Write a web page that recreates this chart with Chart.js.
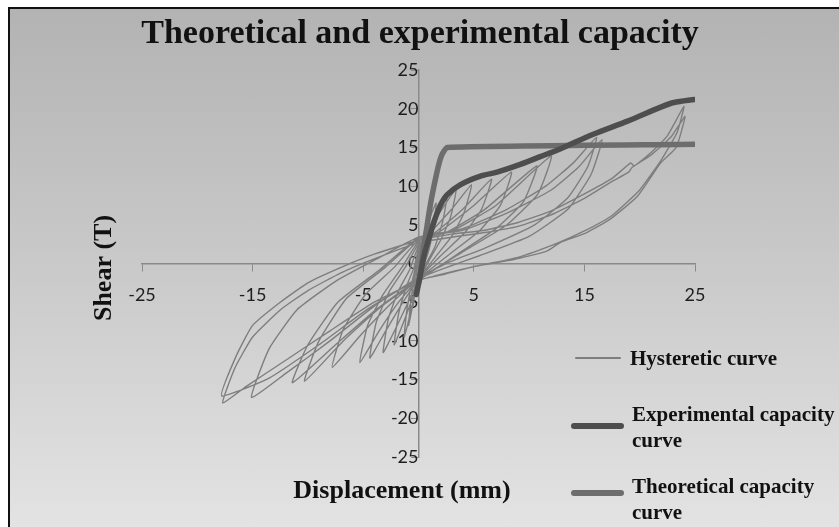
<!DOCTYPE html>
<html>
<head>
<meta charset="utf-8">
<script src="https://cdn.jsdelivr.net/npm/chart.js@4.4.1/dist/chart.umd.min.js"></script>
<style>
  html, body { margin: 0; padding: 0; background: #fff; overflow: hidden; }
  #frame {
    position: absolute; left: 8px; top: 7px; width: 839px; height: 527px;
    border-left: 2px solid #111; border-top: 2px solid #111;
    background: linear-gradient(to bottom, #b3b3b3 0%, #cacaca 50%, #e4e4e4 100%);
  }
  #chart { position: absolute; left: 0; top: 0; }
</style>
</head>
<body>
<div id="frame"></div>
<canvas id="chart" width="839" height="527"></canvas>
<script>
// Chart texts
const chartTitle = 'Theoretical and experimental capacity';
const xTitle = 'Displacement (mm)';
const yTitle = 'Shear (T)';

// Tick labels
const xTicks = [-25, -15, -5, 5, 15, 25];
const yTicks = [-25, -20, -15, -10, -5, 0, 5, 10, 15, 20, 25];

// Experimental capacity curve (envelope)
const expDisp  = [-0.2, 0.1, 0.5, 1.0, 1.5, 2.0, 2.6, 3.8, 5.6, 7.1, 9.2, 11.0, 12.8, 15.8, 18.9, 21.9, 23.1, 25.0];
const expShear = [-4.0, -2.0, 1.0, 3.5, 5.8, 7.6, 8.9, 10.2, 11.3, 11.8, 12.8, 13.8, 14.8, 16.7, 18.4, 20.2, 20.8, 21.2];

// Theoretical capacity curve (bilinear)
const theoDisp  = [0.0, 1.0, 1.7, 2.1, 2.6, 25.0];
const theoShear = [-2.5, 7.0, 12.0, 14.0, 15.0, 15.4];

// Hysteretic curve, [displacement, shear], one line per cycle
const hysteretic = [
  [0, 0],
  [0.3, 2.5], [0.6, 4.5], [0.45, 2], [0.2, 0], [0, -1.5], [-0.3, -3.5], [-0.5, -5.5], [-0.35, -3], [-0.15, -1], [0, 0.5],
  [0.4, 3], [0.8, 5.5], [1.0, 6.5], [0.8, 3.5], [0.5, 1], [0.2, -1], [0, -2], [-0.4, -4.5], [-0.9, -8], [-0.7, -5], [-0.4, -2], [0, 1],
  [0.5, 3.5], [1.1, 6.2], [1.6, 7.8], [1.35, 4.5], [0.9, 1.5], [0.4, -0.5], [0, -2.2], [-0.5, -5], [-1.0, -8], [-1.3, -9.5], [-1.05, -6], [-0.6, -2.5], [-0.2, 0], [0, 1.5],
  [0.7, 3.8], [1.6, 6.5], [2.6, 9.0], [2.2, 5.5], [1.5, 2.2], [0.7, 0], [0, -2.3], [-0.8, -5.5], [-1.6, -8.5], [-2.2, -10.5], [-1.8, -6.5], [-1.1, -3], [-0.4, -0.5], [0, 1.8],
  [1.0, 4.5], [2.2, 7.2], [3.4, 9.6], [2.9, 6], [2.0, 3], [1.0, 0.5], [0, -2.2], [-1.1, -5.5], [-2.2, -8.8], [-3.2, -11.5], [-2.7, -7], [-1.8, -3.5], [-0.8, -0.8], [0, 2.2],
  [1.2, 4.2], [3.0, 7.0], [4.8, 10.2], [4.1, 6.5], [3.0, 3.5], [1.5, 0.8], [0, -2], [-1.4, -5], [-3.0, -8.8], [-4.4, -12.2], [-3.8, -7.5], [-2.6, -3.5], [-1.2, -0.5], [0, 2.5],
  [1.5, 4], [4.0, 7], [6.6, 10.9], [5.7, 7], [4.2, 4], [2, 1], [0, -2], [-1.8, -5], [-3.6, -8.8], [-5.3, -12.8], [-4.6, -8], [-3.2, -4], [-1.5, -0.5], [0, 2.8],
  [2, 4.2], [5, 7.5], [8.4, 11.8], [7.4, 7.5], [5.5, 4.2], [2.8, 1.2], [0, -2], [-2.5, -5.2], [-5.2, -9.2], [-7.8, -13.4], [-6.8, -8.5], [-4.8, -4], [-2.2, -0.5], [0, 3],
  [2.5, 4], [6, 7], [10.7, 12.6], [9.5, 8], [7, 4.5], [3.5, 1.2], [0, -2.2], [-3.3, -5.5], [-6.8, -10], [-10.3, -15.2], [-9, -10], [-6.5, -4.5], [-3, -0.5], [0, 3.2],
  [3, 4.2], [7, 7.5], [12.0, 13.9], [10.8, 9], [8, 5], [4, 1.5], [0, -2], [-3.7, -5.8], [-7.5, -10.5], [-11.4, -15.4], [-10, -10.5], [-7.3, -5], [-3.5, -0.8], [0, 3.3],
  [4, 4.5], [8, 7], [11.5, 10], [14, 13], [16.1, 16.3], [15.3, 12.5], [13.5, 8.5], [10.5, 5], [6, 2], [2.5, 0], [0, -1.8], [-4, -5.5], [-8, -10], [-12, -14.2], [-15.1, -17.3], [-13.5, -11], [-11, -6], [-7.5, -2.3], [-3.5, 0.8], [0, 3.4],
  [4, 4.3], [8, 6.5], [12, 9.5], [14.5, 12.5], [16.6, 16.0], [15.6, 11.5], [13.5, 7], [10, 3.5], [5.5, 1], [2, -0.8], [0, -2], [-4.5, -5.8], [-9, -10.5], [-13.5, -14.8], [-17.8, -17.1], [-16.5, -12], [-15, -8], [-12.5, -5], [-10, -2.5], [-7, -0.5], [-4, 1.2], [0, 3],
  [3, 3.8], [6, 4.3], [9, 5.3], [12, 6.8], [15, 9], [17.5, 11], [19.2, 13.0], [19.5, 12.6], [21, 14.3], [22.5, 16.5], [24.0, 20.3], [23.4, 17], [22, 13.5], [20, 9.5], [17.5, 6.2], [15, 4.2], [12.5, 2.6], [9, 0.8], [5, -0.4], [2, -1.4], [0, -2.2], [-4, -5], [-8, -8.7], [-12, -12.5], [-15.5, -15.8], [-17.7, -18.0], [-16.6, -13.5], [-15, -9.5], [-12.5, -6], [-10, -3.5], [-7, -1.2], [-4, 0.6], [0, 2.7],
  [3, 3.4], [6, 4], [9, 4.8], [12, 6.3], [15, 8.4], [17.5, 10.6], [19, 11.8], [19.3, 12.4], [21, 14], [22.8, 16.3], [24.1, 19.0], [23.3, 15], [21.9, 13], [19.8, 8.7], [17.3, 5.7], [15.2, 4.0], [12.8, 2.7], [11.6, 1.6], [8.6, 0.5], [5.3, -0.3], [2, -1.5], [0, -2.1]
];

// Legend labels (multi-line)
const legendLabels = [
  ['Hysteretic curve'],
  ['Experimental capacity', 'curve'],
  ['Theoretical capacity', 'curve']
];

const hystColor = '#7e7e7e';
const expColor = '#4e4e4e';
const theoColor = '#6d6d6d';

// Draw title, axis titles and the legend
const textPlugin = {
  id: 'textPlugin',
  afterDraw(chart) {
    const ctx = chart.ctx;
    ctx.save();
    ctx.fillStyle = '#111';
    ctx.textBaseline = 'alphabetic';

    ctx.textAlign = 'center';
    ctx.font = 'bold 34px "Liberation Serif"';
    ctx.fillText(chartTitle, 420, 43);

    ctx.font = 'bold 26px "Liberation Serif"';
    ctx.fillText(xTitle, 402, 498);

    ctx.save();
    ctx.translate(111, 268);
    ctx.rotate(-Math.PI / 2);
    ctx.fillText(yTitle, 0, 0);
    ctx.restore();

    // legend
    const samples = [
      { color: hystColor, width: 2, x1: 576, x2: 620, y: 358, textX: 630, base: 365 },
      { color: expColor, width: 6, x1: 574, x2: 621, y: 426, textX: 632, base: 421 },
      { color: theoColor, width: 6, x1: 574, x2: 621, y: 493, textX: 632, base: 493 }
    ];
    ctx.textAlign = 'left';
    ctx.font = 'bold 21px "Liberation Serif"';
    samples.forEach((s, i) => {
      ctx.beginPath();
      ctx.strokeStyle = s.color;
      ctx.lineWidth = s.width;
      ctx.lineCap = 'round';
      ctx.moveTo(s.x1, s.y);
      ctx.lineTo(s.x2, s.y);
      ctx.stroke();
      legendLabels[i].forEach((line, j) => {
        ctx.fillText(line, s.textX, s.base + j * 26);
      });
    });
    ctx.restore();
  }
};

const toPoints = (xs, ys) => xs.map((x, i) => ({ x: x, y: ys[i] }));

const ctx = document.getElementById('chart').getContext('2d');

new Chart(ctx, {
  type: 'scatter',
  data: {
    datasets: [
      {
        label: 'Experimental capacity curve',
        data: toPoints(expDisp, expShear),
        showLine: true,
        borderColor: expColor,
        borderWidth: 5.5,
        pointRadius: 0,
        tension: 0.3,
        borderCapStyle: 'round'
      },
      {
        label: 'Theoretical capacity curve',
        data: toPoints(theoDisp, theoShear),
        showLine: true,
        borderColor: theoColor,
        borderWidth: 5.5,
        pointRadius: 0,
        tension: 0.15
      },
      {
        label: 'Hysteretic curve',
        data: hysteretic.map(p => ({ x: p[0], y: p[1] })),
        showLine: true,
        borderColor: hystColor,
        borderWidth: 1.4,
        pointRadius: 0,
        tension: 0.15
      }
    ]
  },
  options: {
    responsive: false,
    animation: false,
    devicePixelRatio: 1,
    layout: {
      padding: { left: 142, right: 144, top: 70, bottom: 70 }
    },
    plugins: {
      legend: { display: false },
      title: { display: false },
      tooltip: { enabled: false }
    },
    scales: {
      x: {
        type: 'linear',
        position: { y: 0 },
        min: -25,
        max: 25,
        afterBuildTicks: scale => { scale.ticks = xTicks.map(v => ({ value: v })); },
        grid: { drawOnChartArea: false, drawTicks: true, tickLength: 7, color: '#8a8a8a' },
        border: { display: true, color: '#8a8a8a', width: 1.5 },
        ticks: { color: '#1e1e1e', font: { family: 'Lato', size: 18 }, padding: 14, maxRotation: 0 }
      },
      y: {
        type: 'linear',
        position: { x: 0 },
        min: -25,
        max: 25,
        afterBuildTicks: scale => { scale.ticks = yTicks.map(v => ({ value: v })); },
        grid: { drawOnChartArea: false, drawTicks: true, tickLength: 7, color: '#8a8a8a' },
        border: { display: true, color: '#8a8a8a', width: 1.5 },
        ticks: { color: '#1e1e1e', font: { family: 'Lato', size: 18 }, padding: 13 }
      }
    }
  },
  plugins: [textPlugin]
});
</script>
</body>
</html>
